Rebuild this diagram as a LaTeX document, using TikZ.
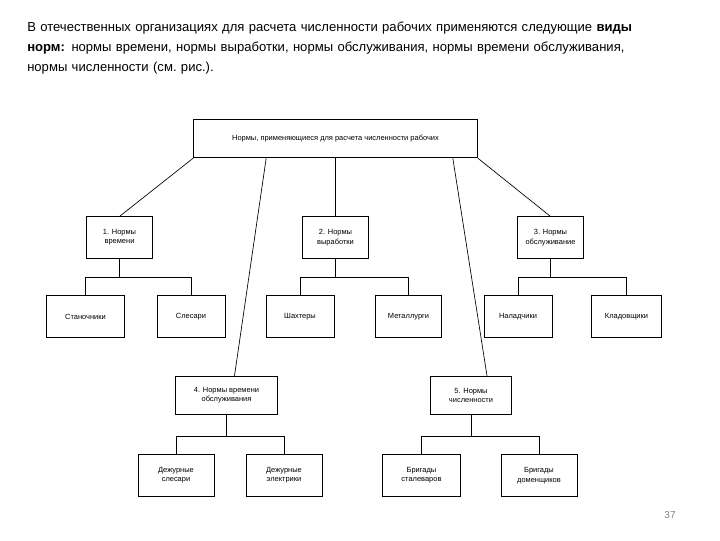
\documentclass[tikz,border=0pt]{standalone}
\usepackage{fontspec}
\setmainfont{Liberation Sans}
\begin{document}
\begin{tikzpicture}[x=0.75pt,y=-0.75pt,
 bx/.style={draw,line width=0.6pt,align=center,font=\fontsize{5.6}{7}\selectfont},
 ln/.style={line width=0.5pt}]
\useasboundingbox (0,0) rectangle (720,540);
\node[anchor=north west,text width=500pt,align=left,inner sep=0pt,font=\fontsize{9.8}{15}\selectfont] (hdr) at (27,22)
{\makebox[500pt][s]{В отечественных организациях для расчета численности рабочих применяются следующие \textbf{виды}}\\
\makebox[500pt][s]{\textbf{норм:} нормы времени, нормы выработки, нормы обслуживания, нормы времени обслуживания,}\\
нормы численности (см.\ рис.).};
\node[bx,minimum width=213pt,minimum height=29pt] (top) at (335.5,138.5) {Нормы, применяющиеся для расчета численности рабочих};
\node[bx,minimum width=50pt,minimum height=31pt] (n1) at (119.5,237.5) {1. Нормы\\времени};
\node[bx,minimum width=50pt,minimum height=31pt] (n2) at (335.5,237.5) {2. Нормы\\выработки};
\node[bx,minimum width=50pt,minimum height=31pt] (n3) at (550.5,237.5) {3. Нормы\\обслуживание};
\node[bx,minimum width=58pt,minimum height=31pt] (a1) at (85.5,316.5) {Станочники};
\node[bx,minimum width=51pt,minimum height=31pt] (a2) at (191,316.5) {Слесари};
\node[bx,minimum width=51pt,minimum height=31pt] (a3) at (300,316.5) {Шахтеры};
\node[bx,minimum width=50pt,minimum height=31pt] (a4) at (408.5,316.5) {Металлурги};
\node[bx,minimum width=51pt,minimum height=31pt] (a5) at (518,316.5) {Наладчики};
\node[bx,minimum width=52pt,minimum height=31pt] (a6) at (626.5,316.5) {Кладовщики};
\node[bx,minimum width=77pt,minimum height=29pt] (n4) at (226.5,395.5) {4. Нормы времени\\обслуживания};
\node[bx,minimum width=61pt,minimum height=29pt] (n5) at (471,395.5) {5. Нормы\\численности};
\node[bx,minimum width=57pt,minimum height=31pt] (b1) at (176,475.5) {Дежурные\\слесари};
\node[bx,minimum width=57pt,minimum height=31pt] (b2) at (284,475.5) {Дежурные\\электрики};
\node[bx,minimum width=58pt,minimum height=31pt] (b3) at (421.5,475.5) {Бригады\\сталеваров};
\node[bx,minimum width=57pt,minimum height=31pt] (b4) at (539,475.5) {Бригады\\доменщиков};
\draw[ln] (top.south west) -- (n1.north);
\draw[ln] (top.south east) -- (n3.north);
\draw[ln] (top.south) -- (n2.north);
\draw[ln] ([xshift=-52pt]top.south) -- ([xshift=6pt]n4.north);
\draw[ln] ([xshift=88pt]top.south) -- ([xshift=12pt]n5.north);
\foreach \p/\c/\d/\y in {n1/a1/a2/277,n2/a3/a4/277,n3/a5/a6/277,n4/b1/b2/436,n5/b3/b4/436}{
 \draw[ln] (\p.south) -- (\p.south |- 0,\y);
 \draw[ln] (\c.north) -- (\c.north |- 0,\y) -- (\d.north |- 0,\y) -- (\d.north);
}
\node[font=\fontsize{7.5}{9}\selectfont,text=gray] (pg) at (670,515) {37};
\end{tikzpicture}
\end{document}
